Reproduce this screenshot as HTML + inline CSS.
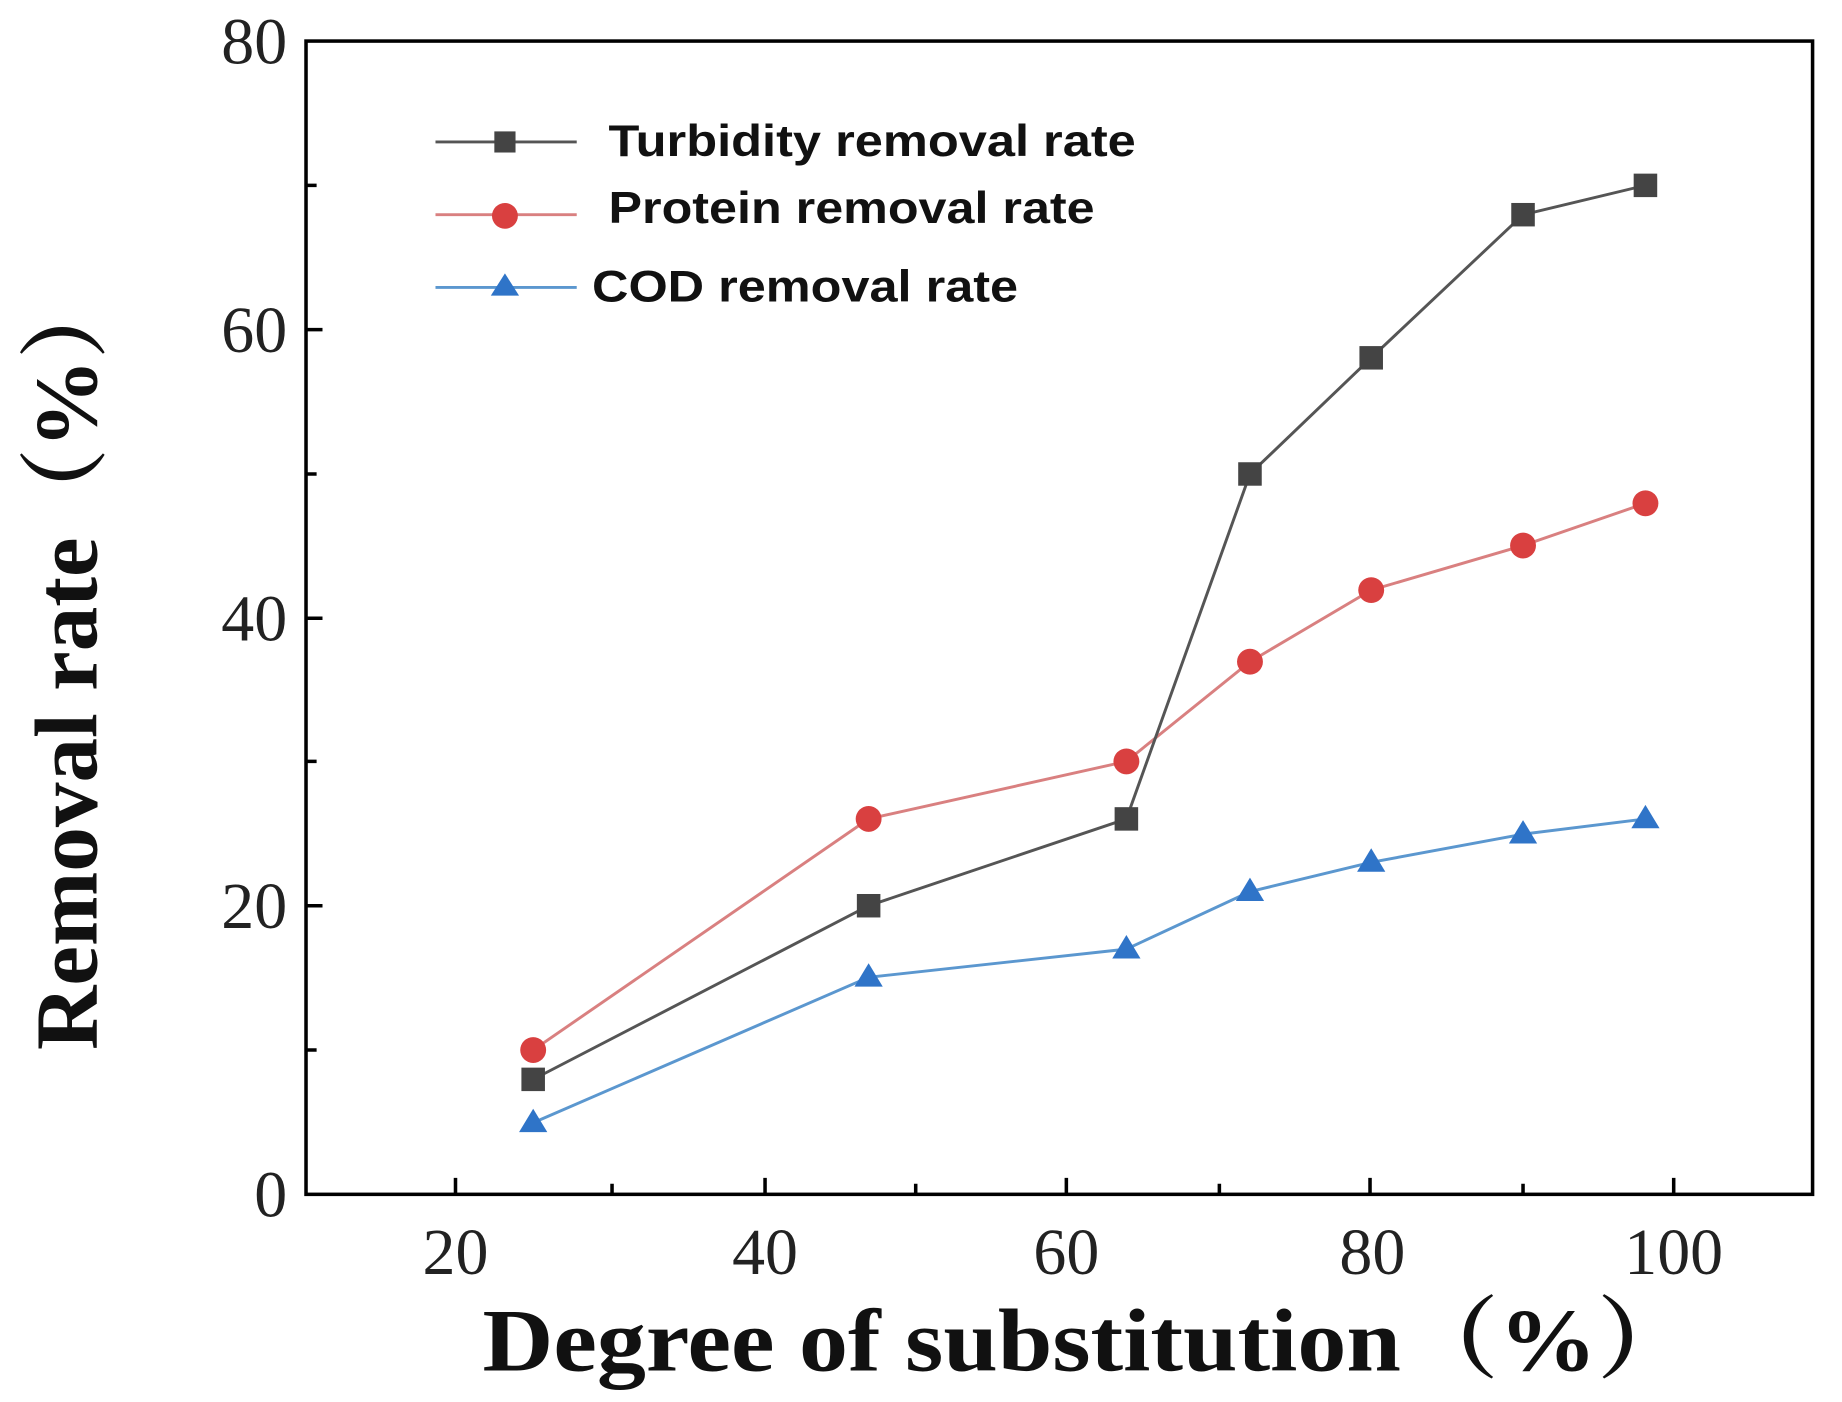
<!DOCTYPE html>
<html><head><meta charset="utf-8"><style>html,body{margin:0;padding:0;background:#fff}svg{display:block}</style></head>
<body>
<svg width="1842" height="1402" viewBox="0 0 1565 1195" preserveAspectRatio="none" xmlns="http://www.w3.org/2000/svg">
<rect width="1565" height="1195" fill="#fff"/>
<g stroke="#000" stroke-width="3" fill="none">
<rect x="260" y="35" width="1280" height="983"/>
<path d="M387 1018v-14M520 1018v-9M650 1018v-14M778 1018v-9M906 1018v-14M1036 1018v-9M1164 1018v-14M1294 1018v-9M1422 1018v-14"/>
<path d="M260 772h14M260 527h14M260 281h14M260 895h9M260 649h9M260 404h9M260 158h9"/>
</g>
<g font-family="Liberation Serif, serif" font-size="56" fill="#222" text-anchor="middle">
<text x="387" y="1086">20</text><text x="650" y="1086">40</text><text x="906" y="1086">60</text><text x="1166" y="1086">80</text><text x="1422" y="1086">100</text>
</g>
<g font-family="Liberation Serif, serif" font-size="56" fill="#222" text-anchor="end">
<text x="244" y="1037">0</text><text x="244" y="791">20</text><text x="244" y="546">40</text><text x="244" y="300">60</text><text x="244" y="54">80</text>
</g>
<text x="410" y="1168" textLength="1030" lengthAdjust="spacingAndGlyphs" font-family="Liberation Serif, 'Noto Serif CJK SC', serif" font-weight="bold" font-size="76" fill="#111">Degree of substitution（%）</text>
<text transform="translate(82,895) rotate(-90)" textLength="665" lengthAdjust="spacingAndGlyphs" font-family="Liberation Serif, 'Noto Serif CJK SC', serif" font-weight="bold" font-size="76" fill="#111">Removal rate（%）</text>
<polyline fill="none" stroke="#d98080" stroke-width="2.5" points="453,895 738,698 957,649 1062,564 1165,503 1294,465 1398,429"/>
<polyline fill="none" stroke="#555" stroke-width="2.5" points="453,920 738,772 957,698 1062,404 1165,305 1294,183 1398,158"/>
<polyline fill="none" stroke="#5b97cf" stroke-width="2.5" points="453,957 738,833 957,809 1062,760 1165,735 1294,711 1398,698"/>
<g fill="#d94040">
<circle cx="453" cy="895" r="11"/><circle cx="738" cy="698" r="11"/><circle cx="957" cy="649" r="11"/><circle cx="1062" cy="564" r="11"/><circle cx="1165" cy="503" r="11"/><circle cx="1294" cy="465" r="11"/><circle cx="1398" cy="429" r="11"/>
</g>
<g fill="#444">
<rect x="443" y="910" width="20" height="20"/><rect x="728" y="762" width="20" height="20"/><rect x="947" y="688" width="20" height="20"/><rect x="1052" y="394" width="20" height="20"/><rect x="1155" y="295" width="20" height="20"/><rect x="1284" y="173" width="20" height="20"/><rect x="1388" y="148" width="20" height="20"/>
</g>
<g fill="#2f74c8">
<path d="M453 945l12 20h-24z"/><path d="M738 821l12 20h-24z"/><path d="M957 797l12 20h-24z"/><path d="M1062 748l12 20h-24z"/><path d="M1165 723l12 20h-24z"/><path d="M1294 699l12 20h-24z"/><path d="M1398 686l12 20h-24z"/>
</g>
<line x1="370" y1="121" x2="490" y2="121" stroke="#555" stroke-width="2.5"/>
<rect x="420" y="112" width="18" height="18" fill="#444"/>
<line x1="370" y1="183" x2="490" y2="183" stroke="#d98080" stroke-width="2.5"/>
<circle cx="429" cy="184" r="11" fill="#d94040"/>
<line x1="370" y1="245" x2="490" y2="245" stroke="#5b97cf" stroke-width="2.5"/>
<path d="M429 233l12 19h-24z" fill="#2f74c8"/>
<g font-family="Liberation Sans, sans-serif" font-weight="bold" font-size="38" fill="#111">
<text x="517" y="133" textLength="448" lengthAdjust="spacingAndGlyphs">Turbidity removal rate</text>
<text x="517" y="190" textLength="413" lengthAdjust="spacingAndGlyphs">Protein removal rate</text>
<text x="503" y="257" textLength="362" lengthAdjust="spacingAndGlyphs">COD removal rate</text>
</g>
</svg>
</body></html>
